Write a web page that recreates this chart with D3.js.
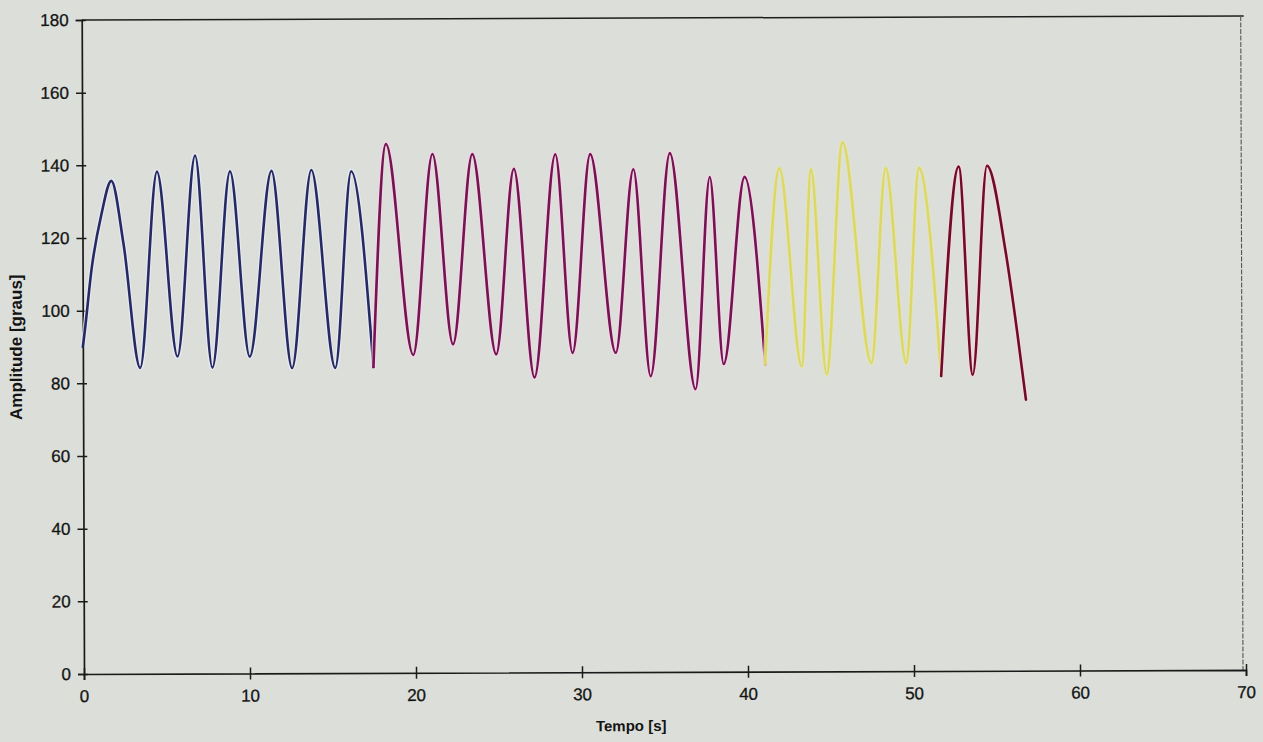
<!DOCTYPE html>
<html>
<head>
<meta charset="utf-8">
<script src="https://cdn.jsdelivr.net/npm/d3@7"></script>
<style>
  html, body { margin: 0; padding: 0; background: #dcdfd9; }
  svg { display: block; }
  text { font-family: "Liberation Sans", Arial, sans-serif; fill: #141414; }
</style>
</head>
<body>
<svg id="chart" width="1263" height="742"></svg>
<script>
// Axis ticks
const xTicks = [0, 10, 20, 30, 40, 50, 60, 70];
const yTicks = [0, 20, 40, 60, 80, 100, 120, 140, 160, 180];

// Segment 1 (blue)
const tempo1 = [0.0, 0.12, 0.55, 1.15, 1.75, 2.47, 3.45, 4.5, 5.7, 6.8, 7.8, 8.9, 10.05, 11.4, 12.6, 13.8, 15.2, 16.2, 17.5];
const amp1   = [90.0, 94.4, 111.7, 126.6, 135.7, 118.4, 84.2, 138.2, 87.3, 142.6, 84.2, 138.2, 87.2, 138.3, 84.0, 138.5, 84.0, 138.1, 84.2];

// Segment 2 (magenta)
const tempo2 = [17.5, 18.3, 19.9, 21.1, 22.3, 23.5, 24.9, 26.0, 27.2, 28.5, 29.5, 30.6, 32.1, 33.2, 34.2, 35.4, 36.9, 37.8, 38.6, 39.9, 41.1];
const amp2   = [84.2, 145.6, 87.5, 142.8, 90.4, 142.7, 87.6, 138.6, 81.2, 142.6, 87.9, 142.6, 87.9, 138.4, 81.4, 142.8, 77.8, 136.2, 84.7, 136.2, 84.6];

// Segment 3 (yellow)
const tempo3 = [41.1, 42.0, 43.3, 43.9, 44.8, 45.8, 47.5, 48.4, 49.6, 50.4, 51.7];
const amp3   = [84.6, 138.5, 84.0, 138.2, 81.8, 145.6, 84.8, 138.5, 84.8, 138.5, 81.2];

// Segment 4 (dark red)
const tempo4 = [51.7, 52.8, 53.6, 54.5, 55.6, 56.3, 56.8];
const amp4   = [81.2, 138.8, 81.5, 139.0, 115.6, 92.8, 74.6];

const segments = [
  { t: tempo1, a: amp1, color: "#262a62", halo: "#e9ebf5" },
  { t: tempo2, a: amp2, color: "#741450", halo: "#f6d3ea" },
  { t: tempo3, a: amp3, color: "#dcd867", halo: "#e4e3b8" },
  { t: tempo4, a: amp4, color: "#6e0c2a", halo: "#f6d6dd" }
];

const svg = d3.select("#chart");
const plotL = 84, plotR = 1246, plotT = 20, plotB = 674;

const x = d3.scaleLinear().domain([0, 70]).range([plotL, plotR]);
const y = d3.scaleLinear().domain([0, 180]).range([plotB, plotT]);

// The printed page sits slightly askew
const g = svg.append("g").attr("transform", `rotate(-0.2, ${plotL}, ${plotB})`);

// Frame: top and right edges of the plot area
g.append("line").attr("x1", plotL).attr("x2", plotR).attr("y1", plotT).attr("y2", plotT)
  .attr("stroke", "#1e1e1e").attr("stroke-width", 1.5);
g.append("line").attr("x1", plotR - 3).attr("x2", plotR - 3).attr("y1", plotT).attr("y2", plotB)
  .attr("stroke", "#555", ).attr("stroke-width", 1.1).attr("stroke-dasharray", "5,1.5");

// Axes with ticks crossing the axis line
const xAxis = g.append("g").attr("transform", `translate(0,${plotB})`)
  .call(d3.axisBottom(x).tickValues(xTicks).tickSize(6).tickPadding(10).tickFormat(d3.format("d")));
xAxis.selectAll(".tick line").attr("y1", -6);

const yAxis = g.append("g").attr("transform", `translate(${plotL},0)`)
  .call(d3.axisLeft(y).tickValues(yTicks).tickSize(6).tickPadding(7).tickFormat(d3.format("d")));
yAxis.selectAll(".tick line").attr("x1", 4);

[xAxis, yAxis].forEach(ax => {
  ax.select(".domain").attr("stroke", "#1a1a1a").attr("stroke-width", 1.7);
  ax.selectAll(".tick line").attr("stroke", "#1a1a1a").attr("stroke-width", 1.5);
  ax.selectAll(".tick text").attr("font-size", 17)
    .attr("font-family", "Liberation Sans, Arial, sans-serif").attr("fill", "#141414")
    .attr("stroke", "#141414").attr("stroke-width", 0.3);
});

// Series
const line = d3.line()
  .x(d => x(d[0]))
  .y(d => y(d[1]))
  .curve(d3.curveMonotoneX);

segments.forEach(s => {
  const pts = s.t.map((t, i) => [t, s.a[i]]);
  g.append("path").datum(pts).attr("d", line)
    .attr("fill", "none").attr("stroke", s.halo).attr("stroke-width", 5)
    .attr("stroke-linejoin", "round").attr("opacity", 0.8);
  g.append("path").datum(pts).attr("d", line)
    .attr("fill", "none").attr("stroke", s.color).attr("stroke-width", 2.6)
    .attr("stroke-linejoin", "round").attr("stroke-linecap", "round");
});

// Axis titles
g.append("text")
  .attr("transform", `translate(23, ${(plotT + plotB) / 2}) rotate(-90)`)
  .attr("text-anchor", "middle")
  .attr("font-size", 17).attr("font-weight", "bold")
  .text("Amplitude [graus]");

g.append("text")
  .attr("x", 631).attr("y", 733)
  .attr("text-anchor", "middle")
  .attr("font-size", 15).attr("font-weight", "bold")
  .text("Tempo [s]");
</script>
</body>
</html>
